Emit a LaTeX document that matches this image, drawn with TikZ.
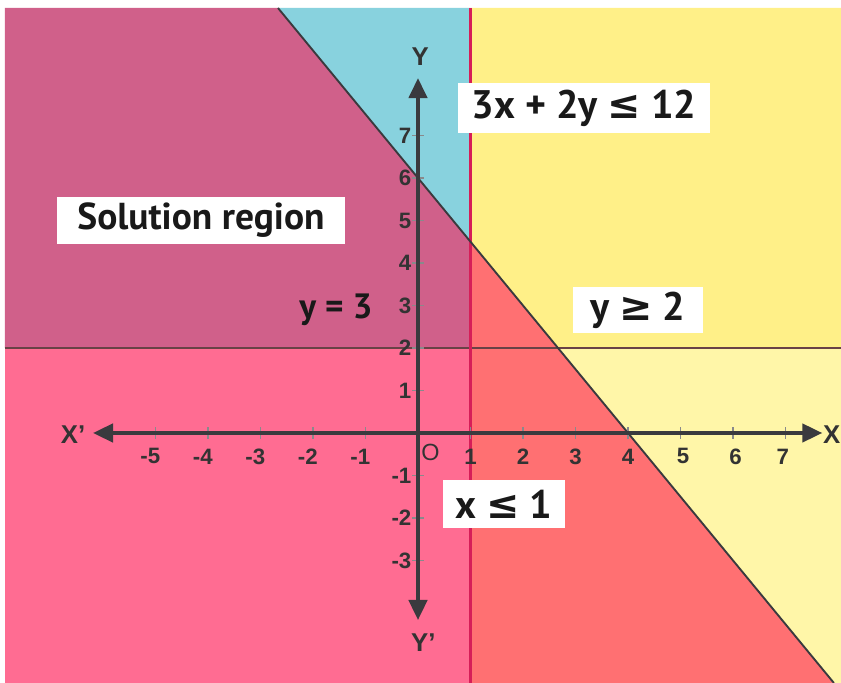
\documentclass[tikz,border=0pt]{standalone}
\usepackage{fontspec}
\setmainfont{PT Sans}
\newfontfamily\numfont{Liberation Sans}
\newfontfamily\relfont{DejaVu Sans}
\usepackage{xcolor}
\usepackage{tikz}
\usetikzlibrary{arrows.meta, positioning, calc}
\definecolor{mauve}{RGB}{208,96,138}
\definecolor{skyblue}{RGB}{136,210,222}
\definecolor{lemon}{RGB}{255,240,136}
\definecolor{paleyellow}{RGB}{255,246,168}
\definecolor{salmon}{RGB}{255,112,114}
\definecolor{rosepink}{RGB}{255,108,146}
\definecolor{axisgray}{RGB}{58,58,62}
\definecolor{crimson}{RGB}{214,30,88}
\definecolor{darkline}{RGB}{105,66,70}
\tikzstyle{tag} = [rectangle, fill=white, inner sep=0pt, align=center, font=\bfseries\fontsize{34}{34}\selectfont, text=black!90]
\tikzstyle{num} = [inner sep=1pt, font=\numfont\bfseries\fontsize{19}{19}\selectfont, text=black!80]
\tikzstyle{axis} = [line width=3pt, draw=axisgray, {Triangle[length=0.6cm,width=0.55cm]}-{Triangle[length=0.6cm,width=0.55cm]}]
\tikzstyle{tick} = [line width=1pt, draw=axisgray!60]
\newcommand{\lsym}{{\relfont\bfseries ≤}}
\newcommand{\gsym}{{\relfont\bfseries ≥}}

\begin{document}
\begin{tikzpicture}[x=1.575cm, y=1.275cm]
\useasboundingbox (-7.962,-5.882) rectangle (8.057,10.188);
\fill [white] (-7.962,-5.882) rectangle (8.057,10.188);

% shaded regions
\fill [rosepink] (-7.867,-5.882) rectangle (1,2);
\fill [mauve] (-7.867,2) -- (1,2) -- (1,4.5) -- (-2.667,10) -- (-7.867,10) -- cycle;
\fill [skyblue] (-2.667,10) -- (1,4.5) -- (1,10) -- cycle;
\fill [lemon] (1,10) -- (1,4.5) -- (2.667,2) -- (8.057,2) -- (8.057,10) -- cycle;
\fill [salmon] (1,4.5) -- (7.922,-5.882) -- (1,-5.882) -- cycle;
\fill [paleyellow] (2.667,2) -- (8.057,2) -- (8.057,-5.882) -- (7.922,-5.882) -- cycle;

% boundary lines
\coordinate (hl) at (-7.867,2);
\coordinate (hr) at (8.057,2);
\coordinate (vt) at (1,10);
\coordinate (vb) at (1,-5.882);
\coordinate (lt) at (-2.667,10);
\coordinate (lb) at (7.922,-5.882);
\draw [line width=2pt, darkline] (hl) -- (hr);
\draw [line width=2pt, crimson] (vt) -- (vb);
\draw [line width=1.6pt, axisgray] (lt) -- (lb);

% ticks
\draw [tick] (-5,-0.14) -- (-5,0.14) (-4,-0.14) -- (-4,0.14) (-3,-0.14) -- (-3,0.14) (-2,-0.14) -- (-2,0.14) (-1,-0.14) -- (-1,0.14);
\draw [tick] (1,-0.14) -- (1,0.14) (2,-0.14) -- (2,0.14) (3,-0.14) -- (3,0.14) (4,-0.14) -- (4,0.14) (5,-0.14) -- (5,0.14) (6,-0.14) -- (6,0.14) (7,-0.14) -- (7,0.14);
\draw [tick] (-0.11,1) -- (0.11,1) (-0.11,2) -- (0.11,2) (-0.11,3) -- (0.11,3) (-0.11,4) -- (0.11,4) (-0.11,5) -- (0.11,5) (-0.11,6) -- (0.11,6) (-0.11,7) -- (0.11,7);
\draw [tick] (-0.11,-1) -- (0.11,-1) (-0.11,-2) -- (0.11,-2) (-0.11,-3) -- (0.11,-3);

% axes
\coordinate (xneg) at (-6.19,0);
\coordinate (xpos) at (7.7,0);
\coordinate (yneg) at (0,-4.4);
\coordinate (ypos) at (0,8.35);
\draw [axis] (xneg) -- (xpos);
\draw [axis] (yneg) -- (ypos);

\node [num, anchor=east, inner sep=0pt, font=\numfont\bfseries\fontsize{22}{22}\selectfont] (xlab) at (8.05,-0.05) {X};
\node [num, font=\numfont\bfseries\fontsize{22}{22}\selectfont] (xplab) at (-6.57,-0.05) {X’};
\node [num, font=\numfont\bfseries\fontsize{22}{22}\selectfont] (ylab) at (0.04,8.85) {Y};
\node [num, font=\numfont\bfseries\fontsize{22}{22}\selectfont] (yplab) at (0.1,-4.94) {Y’};
\node [num, font=\numfont\fontsize{20}{20}\selectfont] (orig) at (0.24,-0.45) {O};

% tick labels
\node [num] (xm5) at (-5.1,-0.55) {-5};
\node [num] (xm4) at (-4.1,-0.55) {-4};
\node [num] (xm3) at (-3.1,-0.55) {-3};
\node [num] (xm2) at (-2.1,-0.55) {-2};
\node [num] (xm1) at (-1.1,-0.55) {-1};
\node [num] (x1) at (1,-0.55) {1};
\node [num] (x2) at (2,-0.55) {2};
\node [num] (x3) at (3,-0.55) {3};
\node [num] (x4) at (4,-0.55) {4};
\node [num] (x5) at (5.05,-0.55) {5};
\node [num] (x6) at (6.05,-0.55) {6};
\node [num] (x7) at (6.95,-0.55) {7};
\node [num, anchor=east] (y1) at (-0.1,1) {1};
\node [num, anchor=east] (y2) at (-0.1,2) {2};
\node [num, anchor=east] (y3) at (-0.1,3) {3};
\node [num, anchor=east] (y4) at (-0.1,4) {4};
\node [num, anchor=east] (y5) at (-0.1,5) {5};
\node [num, anchor=east] (y6) at (-0.1,6) {6};
\node [num, anchor=east] (y7) at (-0.1,7) {7};
\node [num, anchor=east] (ym1) at (-0.1,-1) {-1};
\node [num, anchor=east] (ym2) at (-0.1,-2) {-2};
\node [num, anchor=east] (ym3) at (-0.1,-3) {-3};

% labels
\node [tag, minimum width=7.56cm, minimum height=1.5cm] (ineqa) at (3.162,7.647) {3x + 2y \lsym{} 12};
\node [tag, minimum width=8.64cm, minimum height=1.41cm, font=\bfseries\fontsize{32}{32}\selectfont] (sol) at (-4.133,5.0) {Solution region};
\node [tag, minimum width=3.9cm, minimum height=1.38cm] (ineqb) at (4.19,2.894) {y \gsym{} 2};
\node [tag, minimum width=3.66cm, minimum height=1.44cm] (ineqc) at (1.638,-1.671) {x \lsym{} 1};
\node [tag, fill=none, font=\bfseries\fontsize{30}{30}\selectfont] (yeq) at (-1.562,2.894) {y = 3};
\end{tikzpicture}
\end{document}
